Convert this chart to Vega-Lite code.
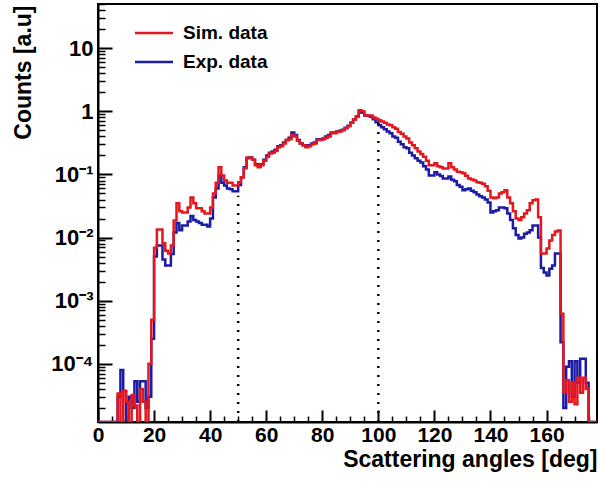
{
  "$schema": "https://vega.github.io/schema/vega-lite/v6.json",
  "width": 499,
  "height": 418,
  "autosize": {"type": "none"},
  "padding": {"left": 98, "top": 4, "right": 1, "bottom": 59},
  "background": "white",
  "config": {
    "view": {"stroke": "black", "strokeWidth": 2},
    "font": "Liberation Sans"
  },
  "datasets": {
    "h": [
      {"a":0,"sim":1.2e-5,"exp":1.2e-5},{"a":1,"sim":1.2e-5,"exp":1.2e-5},{"a":2,"sim":1.2e-5,"exp":1.2e-5},{"a":3,"sim":1.2e-5,"exp":1.2e-5},
      {"a":4,"sim":1.2e-5,"exp":1.2e-5},{"a":5,"sim":1.2e-5,"exp":1.2e-5},{"a":6,"sim":1.2e-5,"exp":1.2e-5},{"a":7,"sim":3.4e-5,"exp":3e-5},
      {"a":8,"sim":1.2e-5,"exp":8e-5},{"a":9,"sim":3.7e-5,"exp":3.7e-5},{"a":10,"sim":2.5e-5,"exp":1.2e-5},{"a":11,"sim":1.2e-5,"exp":3e-5},
      {"a":12,"sim":3.2e-5,"exp":2e-5},{"a":13,"sim":2.2e-5,"exp":5.3e-5},{"a":14,"sim":1.2e-5,"exp":2.5e-5},{"a":15,"sim":4e-5,"exp":5.3e-5},
      {"a":16,"sim":2.5e-5,"exp":5.3e-5},{"a":17,"sim":1.2e-5,"exp":2e-5},{"a":18,"sim":1e-4,"exp":3e-5},{"a":19,"sim":5e-4,"exp":2.5e-4},
      {"a":20,"sim":0.0069,"exp":0.005},{"a":21,"sim":0.0134,"exp":0.0075},{"a":22,"sim":0.0134,"exp":0.0075},{"a":23,"sim":0.0081,"exp":0.0045},
      {"a":24,"sim":0.0062,"exp":0.0036},{"a":25,"sim":0.0056,"exp":0.0036},{"a":26,"sim":0.0075,"exp":0.0055},{"a":27,"sim":0.0186,"exp":0.012},
      {"a":28,"sim":0.035,"exp":0.017},{"a":29,"sim":0.026,"exp":0.013},{"a":30,"sim":0.025,"exp":0.0155},{"a":31,"sim":0.025,"exp":0.0155},
      {"a":32,"sim":0.03,"exp":0.018},{"a":33,"sim":0.043,"exp":0.022},{"a":34,"sim":0.035,"exp":0.019},{"a":35,"sim":0.029,"exp":0.018},
      {"a":36,"sim":0.029,"exp":0.017},{"a":37,"sim":0.026,"exp":0.016},{"a":38,"sim":0.024,"exp":0.016},{"a":39,"sim":0.024,"exp":0.015},
      {"a":40,"sim":0.03,"exp":0.02},{"a":41,"sim":0.05,"exp":0.043},{"a":42,"sim":0.074,"exp":0.06},{"a":43,"sim":0.13,"exp":0.096},
      {"a":44,"sim":0.096,"exp":0.074},{"a":45,"sim":0.08,"exp":0.067},{"a":46,"sim":0.074,"exp":0.06},{"a":47,"sim":0.074,"exp":0.058},
      {"a":48,"sim":0.067,"exp":0.054},{"a":49,"sim":0.067,"exp":0.054},{"a":50,"sim":0.075,"exp":0.068},{"a":51,"sim":0.09,"exp":0.09},
      {"a":52,"sim":0.125,"exp":0.13},{"a":53,"sim":0.185,"exp":0.18},{"a":54,"sim":0.185,"exp":0.185},{"a":55,"sim":0.17,"exp":0.17},
      {"a":56,"sim":0.14,"exp":0.145},{"a":57,"sim":0.13,"exp":0.135},{"a":58,"sim":0.14,"exp":0.145},{"a":59,"sim":0.165,"exp":0.17},
      {"a":60,"sim":0.19,"exp":0.2},{"a":61,"sim":0.215,"exp":0.22},{"a":62,"sim":0.22,"exp":0.23},{"a":63,"sim":0.235,"exp":0.245},
      {"a":64,"sim":0.27,"exp":0.28},{"a":65,"sim":0.28,"exp":0.29},{"a":66,"sim":0.31,"exp":0.32},{"a":67,"sim":0.35,"exp":0.35},
      {"a":68,"sim":0.36,"exp":0.38},{"a":69,"sim":0.42,"exp":0.46},{"a":70,"sim":0.4,"exp":0.42},{"a":71,"sim":0.34,"exp":0.35},
      {"a":72,"sim":0.31,"exp":0.31},{"a":73,"sim":0.29,"exp":0.29},{"a":74,"sim":0.27,"exp":0.28},{"a":75,"sim":0.28,"exp":0.29},
      {"a":76,"sim":0.3,"exp":0.31},{"a":77,"sim":0.31,"exp":0.32},{"a":78,"sim":0.35,"exp":0.36},{"a":79,"sim":0.35,"exp":0.36},
      {"a":80,"sim":0.36,"exp":0.37},{"a":81,"sim":0.38,"exp":0.4},{"a":82,"sim":0.4,"exp":0.42},{"a":83,"sim":0.45,"exp":0.46},
      {"a":84,"sim":0.45,"exp":0.46},{"a":85,"sim":0.47,"exp":0.48},{"a":86,"sim":0.48,"exp":0.49},{"a":87,"sim":0.5,"exp":0.51},
      {"a":88,"sim":0.54,"exp":0.55},{"a":89,"sim":0.58,"exp":0.59},{"a":90,"sim":0.66,"exp":0.66},{"a":91,"sim":0.74,"exp":0.74},
      {"a":92,"sim":0.83,"exp":0.83},{"a":93,"sim":1.04,"exp":0.98},{"a":94,"sim":1.0,"exp":0.95},{"a":95,"sim":0.86,"exp":0.86},
      {"a":96,"sim":0.86,"exp":0.85},{"a":97,"sim":0.86,"exp":0.82},{"a":98,"sim":0.8,"exp":0.75},{"a":99,"sim":0.76,"exp":0.67},
      {"a":100,"sim":0.72,"exp":0.6},{"a":101,"sim":0.69,"exp":0.56},{"a":102,"sim":0.66,"exp":0.52},{"a":103,"sim":0.62,"exp":0.48},
      {"a":104,"sim":0.6,"exp":0.45},{"a":105,"sim":0.56,"exp":0.4},{"a":106,"sim":0.53,"exp":0.38},{"a":107,"sim":0.47,"exp":0.33},
      {"a":108,"sim":0.44,"exp":0.3},{"a":109,"sim":0.4,"exp":0.27},{"a":110,"sim":0.37,"exp":0.26},{"a":111,"sim":0.32,"exp":0.22},
      {"a":112,"sim":0.29,"exp":0.2},{"a":113,"sim":0.26,"exp":0.18},{"a":114,"sim":0.23,"exp":0.165},{"a":115,"sim":0.21,"exp":0.155},
      {"a":116,"sim":0.19,"exp":0.135},{"a":117,"sim":0.165,"exp":0.12},{"a":118,"sim":0.14,"exp":0.096},{"a":119,"sim":0.14,"exp":0.096},
      {"a":120,"sim":0.15,"exp":0.108},{"a":121,"sim":0.135,"exp":0.1},{"a":122,"sim":0.13,"exp":0.094},{"a":123,"sim":0.124,"exp":0.086},
      {"a":124,"sim":0.124,"exp":0.086},{"a":125,"sim":0.15,"exp":0.093},{"a":126,"sim":0.13,"exp":0.082},{"a":127,"sim":0.12,"exp":0.078},
      {"a":128,"sim":0.11,"exp":0.068},{"a":129,"sim":0.108,"exp":0.064},{"a":130,"sim":0.104,"exp":0.056},{"a":131,"sim":0.095,"exp":0.058},
      {"a":132,"sim":0.086,"exp":0.06},{"a":133,"sim":0.083,"exp":0.055},{"a":134,"sim":0.08,"exp":0.052},{"a":135,"sim":0.075,"exp":0.048},
      {"a":136,"sim":0.074,"exp":0.045},{"a":137,"sim":0.071,"exp":0.043},{"a":138,"sim":0.065,"exp":0.04},{"a":139,"sim":0.055,"exp":0.036},
      {"a":140,"sim":0.043,"exp":0.025},{"a":141,"sim":0.042,"exp":0.026},{"a":142,"sim":0.043,"exp":0.027},{"a":143,"sim":0.05,"exp":0.03},
      {"a":144,"sim":0.052,"exp":0.03},{"a":145,"sim":0.056,"exp":0.029},{"a":146,"sim":0.043,"exp":0.024},{"a":147,"sim":0.035,"exp":0.019},
      {"a":148,"sim":0.026,"exp":0.014},{"a":149,"sim":0.02,"exp":0.011},{"a":150,"sim":0.019,"exp":0.0097},{"a":151,"sim":0.021,"exp":0.01},
      {"a":152,"sim":0.024,"exp":0.0115},{"a":153,"sim":0.027,"exp":0.012},{"a":154,"sim":0.035,"exp":0.013},{"a":155,"sim":0.039,"exp":0.0155},
      {"a":156,"sim":0.04,"exp":0.0155},{"a":157,"sim":0.021,"exp":0.01},{"a":158,"sim":0.0056,"exp":0.0033},{"a":159,"sim":0.0056,"exp":0.0028},
      {"a":160,"sim":0.0067,"exp":0.0025},{"a":161,"sim":0.009,"exp":0.0032},{"a":162,"sim":0.011,"exp":0.0036},{"a":163,"sim":0.0125,"exp":0.0056},
      {"a":164,"sim":0.0129,"exp":0.0056},{"a":165,"sim":6.2e-4,"exp":2.2e-4},{"a":166,"sim":3.5e-5,"exp":2e-5},{"a":167,"sim":5.5e-5,"exp":9e-5},
      {"a":168,"sim":2.5e-5,"exp":1.1e-4},{"a":169,"sim":5e-5,"exp":3e-5},{"a":170,"sim":2.3e-5,"exp":1.1e-4},{"a":171,"sim":6e-5,"exp":5e-5},
      {"a":172,"sim":3.5e-5,"exp":1.2e-4},{"a":173,"sim":6e-5,"exp":1.2e-4},{"a":174,"sim":4e-5,"exp":5e-5},{"a":175,"sim":1.2e-5,"exp":1.2e-5},
      {"a":176,"sim":1.2e-5,"exp":1.2e-5},{"a":177,"sim":1.2e-5,"exp":1.2e-5},{"a":178,"sim":1.2e-5,"exp":1.2e-5}
    ],
    "cuts": [
      {"a": 50, "lo": 1.2e-5, "hi": 0.046},
      {"a": 100, "lo": 1.2e-5, "hi": 0.8}
    ]
  },
  "layer": [
    {
      "data": {"name": "h"},
      "transform": [
        {"fold": ["sim", "exp"], "as": ["series", "v"]},
        {"filter": {"field": "series", "equal": "exp"}}
      ],
      "mark": {"type": "line", "interpolate": "step-after", "strokeWidth": 2.5, "clip": true},
      "encoding": {
        "x": {
          "field": "a", "type": "quantitative",
          "scale": {"domain": [0, 178], "nice": false, "zero": false},
          "axis": {
            "orient": "bottom",
            "values": [0, 20, 40, 60, 80, 100, 120, 140, 160],
            "format": "d",
            "grid": false,
            "domainColor": "black", "domainWidth": 2,
            "tickColor": "black", "tickWidth": 2, "tickSize": -12,
            "labelFont": "Liberation Sans", "labelFontSize": 21, "labelFontWeight": "bold", "labelColor": "black",
            "labelPadding": 14, "labelFlush": false,
            "title": "Scattering angles [deg]",
            "titleFont": "Liberation Sans", "titleFontSize": 23, "titleFontWeight": "bold", "titleColor": "black",
            "titleAnchor": "end", "titleAlign": "right", "titleBaseline": "alphabetic",
            "titleX": 499, "titleY": 44
          }
        },
        "y": {
          "field": "v", "type": "quantitative",
          "scale": {"type": "log", "domain": [1.2e-5, 50], "nice": false},
          "axis": {
            "orient": "left",
            "values": [10, 1, 0.1, 0.01, 0.001, 0.0001],
            "labelExpr": "datum.value >= 1 ? format(datum.value, 'd') : '10' + ['⁻¹','⁻²','⁻³','⁻⁴'][round(-log(datum.value)/LN10) - 1]",
            "grid": false,
            "domainColor": "black", "domainWidth": 2,
            "tickColor": "black", "tickWidth": 2, "tickSize": -14,
            "labelFont": "Liberation Sans", "labelFontSize": 22, "labelFontWeight": "bold", "labelColor": "black",
            "labelPadding": 19, "labelFlush": false,
            "title": "Counts [a.u]",
            "titleFont": "Liberation Sans", "titleFontSize": 23, "titleFontWeight": "bold", "titleColor": "black",
            "titleAnchor": "end", "titleAlign": "right", "titleBaseline": "middle",
            "titleX": -75, "titleY": 1
          }
        },
        "color": {
          "field": "series", "type": "nominal",
          "scale": {"domain": ["sim", "exp"], "range": ["#e4161e", "#1b1ba6"]},
          "legend": {
            "orient": "none", "legendX": 45, "legendY": 18,
            "title": null, "padding": 0, "rowPadding": 8,
            "symbolType": "M-2,0H2", "symbolSize": 361, "symbolStrokeWidth": 2.5,
            "labelFont": "Liberation Sans", "labelFontSize": 19, "labelFontWeight": "bold", "labelColor": "black",
            "labelOffset": 18,
            "labelExpr": "datum.value == 'sim' ? 'Sim. data' : 'Exp. data'"
          }
        }
      }
    },
    {
      "data": {"name": "h"},
      "transform": [
        {"fold": ["sim", "exp"], "as": ["series", "v"]},
        {"filter": {"field": "series", "equal": "sim"}}
      ],
      "mark": {"type": "line", "interpolate": "step-after", "strokeWidth": 2.5, "clip": true},
      "encoding": {
        "x": {"field": "a", "type": "quantitative", "axis": null},
        "y": {"field": "v", "type": "quantitative", "axis": null},
        "color": {"field": "series", "type": "nominal"}
      }
    },
    {
      "data": {"name": "cuts"},
      "mark": {"type": "rule", "color": "black", "strokeWidth": 2.5, "strokeDash": [2, 7], "clip": true},
      "encoding": {
        "x": {
          "field": "a", "type": "quantitative",
          "axis": {
            "orient": "bottom",
            "values": [5, 10, 15, 25, 30, 35, 45, 50, 55, 65, 70, 75, 85, 90, 95, 105, 110, 115, 125, 130, 135, 145, 150, 155, 165, 170, 175],
            "labels": false, "domain": false, "grid": false, "title": null,
            "tickColor": "black", "tickWidth": 1.5, "tickSize": -6
          }
        },
        "y": {
          "field": "lo", "type": "quantitative",
          "axis": {
            "orient": "left",
            "values": [2e-5, 3e-5, 4e-5, 5e-5, 6e-5, 7e-5, 8e-5, 9e-5,
                       2e-4, 3e-4, 4e-4, 5e-4, 6e-4, 7e-4, 8e-4, 9e-4,
                       0.002, 0.003, 0.004, 0.005, 0.006, 0.007, 0.008, 0.009,
                       0.02, 0.03, 0.04, 0.05, 0.06, 0.07, 0.08, 0.09,
                       0.2, 0.3, 0.4, 0.5, 0.6, 0.7, 0.8, 0.9,
                       2, 3, 4, 5, 6, 7, 8, 9, 20, 30, 40, 50],
            "labels": false, "domain": false, "grid": false, "title": null,
            "tickColor": "black", "tickWidth": 1.5, "tickSize": -7
          }
        },
        "y2": {"field": "hi"}
      }
    }
  ],
  "resolve": {"axis": {"x": "independent", "y": "independent"}}
}
